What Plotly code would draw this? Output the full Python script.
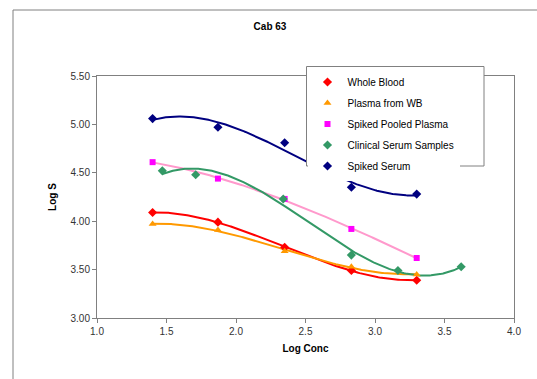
import numpy as np
import plotly.graph_objects as go

# Data
x_common = [1.40, 1.87, 2.35, 2.83, 3.30]
whole_blood = [4.09, 3.99, 3.73, 3.49, 3.39]
plasma_wb = [3.97, 3.91, 3.69, 3.53, 3.45]
spiked_pooled = [4.61, 4.44, 4.23, 3.92, 3.62]
clinical_x = [1.47, 1.71, 2.34, 2.83, 3.165, 3.62]
clinical_y = [4.52, 4.48, 4.23, 3.65, 3.49, 3.53]
spiked_serum = [5.06, 4.97, 4.81, 4.35, 4.28]

x_ticks = [1.0, 1.5, 2.0, 2.5, 3.0, 3.5, 4.0]
y_ticks = [3.0, 3.5, 4.0, 4.5, 5.0, 5.5]

series = [
    ("Whole Blood", x_common, whole_blood, "diamond", "#FF0000", "#FF0000", 7),
    ("Plasma from WB", x_common, plasma_wb, "triangle-up", "#FF9900", "#FF9900", 7),
    ("Spiked Pooled Plasma", x_common, spiked_pooled, "square", "#FF00FF", "#FF99CC", 6),
    ("Clinical Serum Samples", clinical_x, clinical_y, "diamond", "#339966", "#339966", 7),
    ("Spiked Serum", x_common, spiked_serum, "diamond", "#000080", "#000080", 7),
]

fig = go.Figure()
FONT = "Liberation Sans, Arial, sans-serif"

# Polynomial trendlines (order 3) computed from the data
for name, xs, ys, sym, mcol, lcol, msz in series:
    coef = np.polyfit(xs, ys, 3)
    xf = np.linspace(min(xs), max(xs), 200)
    fig.add_trace(go.Scatter(x=xf, y=np.polyval(coef, xf), mode="lines",
                             line=dict(color=lcol, width=2), showlegend=False,
                             hoverinfo="skip"))

for i, (name, xs, ys, sym, mcol, lcol, msz) in enumerate(series):
    fig.add_trace(go.Scatter(x=xs, y=ys, mode="markers", name=name,
                             legendgroup=f"g{i}",
                             marker=dict(symbol=sym, color=mcol, size=msz)))

axis_common = dict(showline=True, linecolor="#808080", linewidth=1, mirror=True,
                   ticks="outside", ticklen=4, tickcolor="#808080", showgrid=False,
                   zeroline=False, tickfont=dict(family=FONT, size=10, color="#333333"))

L, T, W, H = 97, 76, 417, 242
def px(x):
    return (x - L) / W
def py(y):
    return 1 + (T - y) / H

fig.update_layout(
    width=537, height=379,
    margin=dict(l=97, r=23, t=76, b=61),
    paper_bgcolor="white", plot_bgcolor="white",
    font=dict(family=FONT, size=10, color="#000000"),
    title=dict(text="<b>Cab 63</b>", x=270 / 537, xanchor="center",
               y=1 - 26 / 379, yanchor="middle", font=dict(size=10, family=FONT)),
    xaxis=dict(range=[1.0, 4.0], tickvals=x_ticks, ticktext=[f"{v:.1f}" for v in x_ticks],
               title=dict(text="<b>Log Conc</b>", standoff=8, font=dict(size=10, family=FONT)),
               **axis_common),
    yaxis=dict(range=[3.0, 5.5], tickvals=y_ticks, ticktext=[f"{v:.2f}" for v in y_ticks],
               title=dict(text="<b>Log S</b>", standoff=12, font=dict(size=10, family=FONT)),
               **axis_common),
    legend=dict(x=px(307.5), y=py(67.5), xanchor="left", yanchor="top",
                bgcolor="white", borderwidth=0,
                font=dict(family=FONT, size=10, color="#000000"),
                traceorder="grouped", tracegroupgap=2),
    shapes=[
        dict(type="line", xref="paper", yref="paper", x0=px(13), x1=px(13),
             y0=-0.3, y1=py(10), line=dict(color="#808080", width=1)),
        dict(type="line", xref="paper", yref="paper", x0=px(13), x1=1.2,
             y0=py(10), y1=py(10), line=dict(color="#808080", width=1)),
        dict(type="rect", xref="paper", yref="paper", x0=px(306.5), x1=px(484),
             y0=py(166), y1=py(66.5), fillcolor="white", layer="above",
             line=dict(color="#808080", width=1)),
    ],
)

fig.write_html("out.html")
